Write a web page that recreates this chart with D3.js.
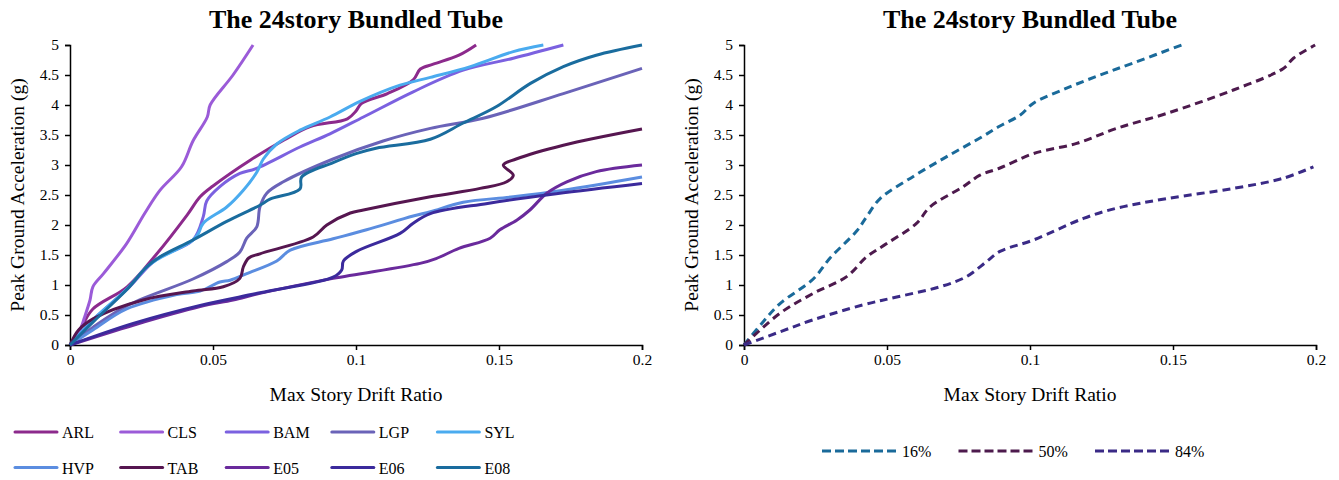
<!DOCTYPE html>
<html><head><meta charset="utf-8">
<script src="https://cdn.jsdelivr.net/npm/d3@7"></script>
<style>
html,body{margin:0;padding:0;background:#fff;}
svg{display:block;}
</style></head>
<body><svg id="chart" width="1339" height="480"></svg>
<script>
// ---- data: [max story drift ratio, PGA (g)] ----
const ARL = [[0,0],[0.004,0.3],[0.008,0.6],[0.02,0.97],[0.03,1.5],[0.041,2.17],[0.0455,2.47],[0.05,2.65],[0.063,3.08],[0.075,3.42],[0.084,3.64],[0.097,3.77],[0.1,3.9],[0.102,4.03],[0.111,4.19],[0.12,4.42],[0.1225,4.6],[0.127,4.68],[0.136,4.83],[0.142,5.0]];
const CLS = [[0,0],[0.0035,0.25],[0.005,0.45],[0.007,0.75],[0.008,0.97],[0.0117,1.19],[0.0198,1.69],[0.0262,2.2],[0.0315,2.58],[0.039,2.97],[0.043,3.4],[0.048,3.8],[0.049,4.0],[0.057,4.5],[0.064,5.0]];
const BAM = [[0,0],[0.008,0.42],[0.02,0.93],[0.03,1.42],[0.043,1.75],[0.0466,2.14],[0.0478,2.4],[0.0524,2.64],[0.0594,2.86],[0.065,2.94],[0.0804,3.3],[0.0909,3.52],[0.1026,3.8],[0.12,4.22],[0.1375,4.58],[0.155,4.78],[0.1725,5.0]];
const LGP = [[0,0],[0.0082,0.3],[0.021,0.68],[0.043,1.1],[0.0548,1.39],[0.0594,1.55],[0.0618,1.78],[0.0653,1.97],[0.0664,2.3],[0.0688,2.53],[0.0746,2.72],[0.092,3.1],[0.1095,3.4],[0.126,3.61],[0.1445,3.78],[0.1725,4.19],[0.2,4.61]];
const SYL = [[0,0],[0.008,0.42],[0.0198,0.93],[0.0268,1.3],[0.0303,1.42],[0.043,1.75],[0.0449,1.86],[0.0466,2.03],[0.0548,2.3],[0.0606,2.58],[0.0653,2.88],[0.0676,3.1],[0.0723,3.35],[0.0804,3.58],[0.0909,3.8],[0.1014,4.06],[0.1154,4.33],[0.126,4.46],[0.14,4.64],[0.155,4.89],[0.1655,5.0]];
const HVP = [[0,0],[0.008,0.25],[0.0198,0.6],[0.0373,0.84],[0.0455,0.9],[0.0524,1.05],[0.056,1.08],[0.0618,1.19],[0.0723,1.4],[0.077,1.58],[0.092,1.77],[0.1037,1.92],[0.12,2.15],[0.126,2.22],[0.1375,2.38],[0.155,2.47],[0.1725,2.58],[0.2,2.8]];
const TAB = [[0,0],[0.003,0.25],[0.0082,0.44],[0.0256,0.75],[0.043,0.9],[0.0536,0.97],[0.0594,1.11],[0.0606,1.3],[0.0625,1.45],[0.0664,1.52],[0.085,1.8],[0.0898,2.0],[0.098,2.2],[0.1026,2.25],[0.126,2.47],[0.1434,2.61],[0.1527,2.72],[0.155,2.83],[0.1515,3.0],[0.156,3.1],[0.1725,3.33],[0.2,3.6]];
const E05 = [[0,0],[0.0221,0.33],[0.0455,0.64],[0.057,0.75],[0.0664,0.86],[0.092,1.11],[0.1224,1.36],[0.128,1.44],[0.136,1.61],[0.1469,1.78],[0.1503,1.92],[0.1562,2.08],[0.1608,2.25],[0.1667,2.53],[0.1737,2.72],[0.184,2.89],[0.2,3.0]];
const E06 = [[0,0],[0.0221,0.36],[0.0455,0.66],[0.0664,0.87],[0.092,1.13],[0.095,1.25],[0.0956,1.4],[0.1002,1.56],[0.1154,1.86],[0.12,2.03],[0.126,2.19],[0.146,2.36],[0.17,2.52],[0.2,2.69]];
const E08 = [[0,0],[0.0082,0.39],[0.0198,0.92],[0.0268,1.3],[0.0315,1.47],[0.043,1.75],[0.0548,2.06],[0.0664,2.33],[0.0699,2.43],[0.0804,2.6],[0.081,2.8],[0.092,3.04],[0.1,3.19],[0.107,3.28],[0.126,3.43],[0.1375,3.7],[0.149,3.97],[0.161,4.36],[0.1725,4.64],[0.184,4.83],[0.2,5.0]];

const P16 = [[0,0],[0.0062,0.36],[0.0126,0.69],[0.0242,1.1],[0.0301,1.45],[0.0394,1.9],[0.0429,2.14],[0.0476,2.44],[0.0592,2.81],[0.0709,3.14],[0.0825,3.45],[0.0895,3.65],[0.0965,3.83],[0.1012,4.03],[0.1128,4.28],[0.1245,4.5],[0.1361,4.7],[0.153,5.0]];
const P50 = [[0,0],[0.0126,0.53],[0.0242,0.86],[0.0359,1.14],[0.0429,1.47],[0.0499,1.69],[0.0604,2.03],[0.065,2.3],[0.0767,2.64],[0.0825,2.83],[0.0895,2.95],[0.1012,3.19],[0.1163,3.36],[0.1303,3.61],[0.1478,3.86],[0.1711,4.25],[0.1886,4.61],[0.1921,4.78],[0.1997,5.0]];
const P84 = [[0,0],[0.0126,0.22],[0.0242,0.42],[0.0417,0.67],[0.0534,0.8],[0.0685,0.97],[0.0778,1.14],[0.0848,1.39],[0.0895,1.56],[0.1012,1.75],[0.1187,2.11],[0.1303,2.28],[0.1478,2.44],[0.1711,2.61],[0.1886,2.78],[0.1991,2.97]];

const recordNames = ["ARL","CLS","BAM","LGP","SYL","HVP","TAB","E05","E06","E08"];
const recordData = [ARL,CLS,BAM,LGP,SYL,HVP,TAB,E05,E06,E08];
const recordColors = ["#8c2a8c","#9b5bd8","#7b61e0","#6a63b8","#4aabef","#5b8de0","#561650","#6a2a9c","#3b2a9c","#1a6c9e"];
const fractileNames = ["16%","50%","84%"];
const fractileData = [P16,P50,P84];
const fractileColors = ["#1a6a9a","#4d1a4d","#3a2a86"];

const xTicks = [0,0.05,0.1,0.15,0.2];
const yTicks = [0,0.5,1,1.5,2,2.5,3,3.5,4,4.5,5];
const titleText = "The 24story Bundled Tube";
const xLabel = "Max Story Drift Ratio";
const yLabel = "Peak Ground Acceleration (g)";

// ---- drawing ----
const FONT = '"Liberation Serif", "Times New Roman", Tinos, serif';
const svg = d3.select("#chart");
const H = {top:45, bottom:345};

function panel(x0, x1, names, datas, colors, dashed){
  const g = svg.append("g");
  const x = d3.scaleLinear().domain([0,0.2]).range([x0,x1]);
  const y = d3.scaleLinear().domain([0,5]).range([H.bottom,H.top]);
  const fmt = d => String(+d.toFixed(2));

  const xa = g.append("g").attr("transform",`translate(0,${H.bottom})`)
    .call(d3.axisBottom(x).tickValues(xTicks).tickFormat(fmt).tickSizeOuter(0).tickSize(5).tickPadding(4));
  const ya = g.append("g").attr("transform",`translate(${x0},0)`)
    .call(d3.axisLeft(y).tickValues(yTicks).tickFormat(fmt).tickSizeOuter(0).tickSize(5).tickPadding(6));
  [xa,ya].forEach(a=>{
    a.attr("font-family",null);
    a.selectAll("path").attr("stroke","#000").attr("stroke-width",1.5);
    a.selectAll("line").attr("stroke","#000").attr("stroke-width",1.5);
    a.selectAll("text").style("font-family",FONT).style("font-size","15.5px").attr("fill","#000");
  });

  const line = d3.line().x(d=>x(d[0])).y(d=>y(d[1])).curve(d3.curveCatmullRom.alpha(0.5));
  names.forEach((n,i)=>{
    g.append("path").datum(datas[i]).attr("d",line)
      .attr("fill","none").attr("stroke",colors[i]).attr("stroke-width",3)
      .attr("stroke-linejoin","round")
      .attr("stroke-dasharray",dashed?"8,5":null);
  });

  const cx = (x0+x1)/2;
  g.append("text").attr("x",cx).attr("y",28).attr("text-anchor","middle")
    .style("font-family",FONT).style("font-size","26px").style("font-weight","bold").text(titleText);
  g.append("text").attr("x",cx).attr("y",401).attr("text-anchor","middle")
    .style("font-family",FONT).style("font-size","19.5px").text(xLabel);
  g.append("text").attr("transform",`translate(${x0-46},${(H.top+H.bottom)/2}) rotate(-90)`)
    .attr("text-anchor","middle").style("font-family",FONT).style("font-size","19.5px").text(yLabel);
  return g;
}

panel(70,642,recordNames,recordData,recordColors,false);
panel(744,1316,fractileNames,fractileData,fractileColors,true);

// legends
const leg1 = svg.append("g");
recordNames.forEach((n,i)=>{
  const col = i%5, row = Math.floor(i/5);
  const lx = 15 + col*105.6, ly = 432 + row*35.5;
  leg1.append("line").attr("x1",lx).attr("x2",lx+42).attr("y1",ly).attr("y2",ly)
    .attr("stroke",recordColors[i]).attr("stroke-width",3).attr("stroke-linecap","round");
  leg1.append("text").attr("x",lx+47).attr("y",ly+6).style("font-family",FONT).style("font-size","16px").text(n);
});
const leg2 = svg.append("g");
fractileNames.forEach((n,i)=>{
  const lx = 822 + i*136.5, ly = 451;
  leg2.append("line").attr("x1",lx).attr("x2",lx+74).attr("y1",ly).attr("y2",ly)
    .attr("stroke",fractileColors[i]).attr("stroke-width",3).attr("stroke-dasharray","9,4");
  leg2.append("text").attr("x",lx+80).attr("y",ly+6).style("font-family",FONT).style("font-size","16px").text(n);
});
</script></body></html>
